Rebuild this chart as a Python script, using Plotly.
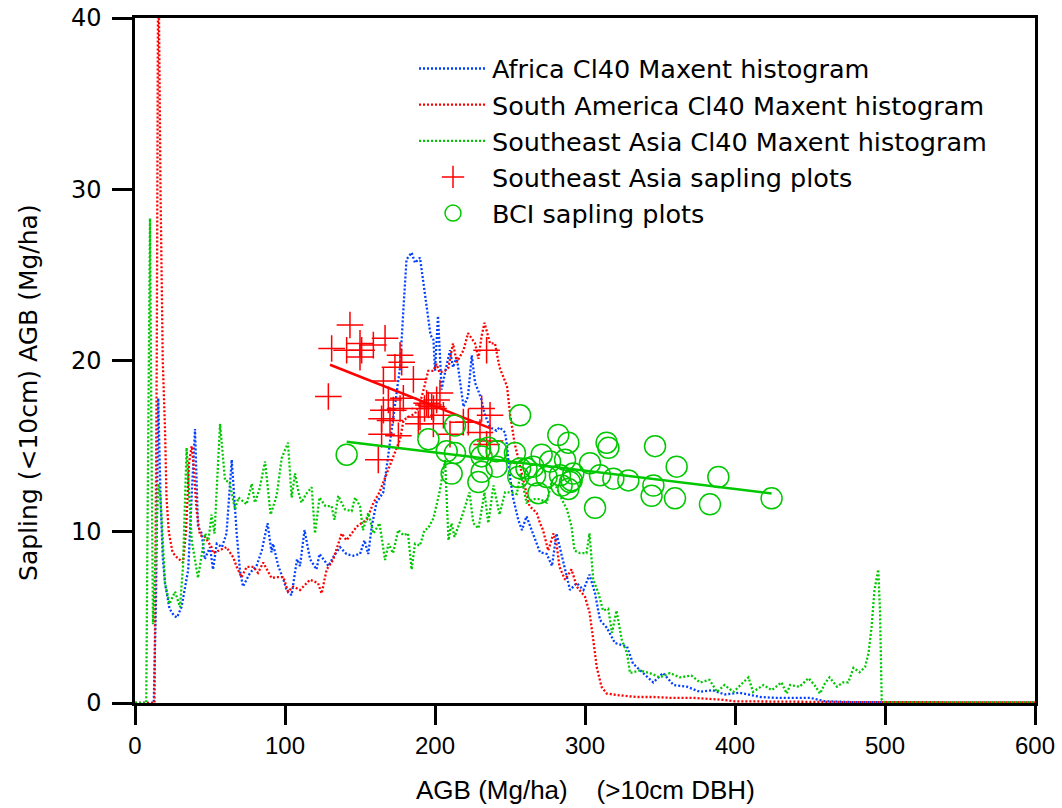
import plotly.graph_objects as go

# ---------------- data ----------------
africa_x = [0, 12.5, 14, 15.5, 17, 18.5, 20, 23, 26, 28, 31, 33, 35.5, 38, 40, 42, 44.5, 46.5, 50, 52, 54.5, 58, 61, 64.5, 67.8,
            70, 72, 76.7, 81, 84.5, 88.4, 91, 92, 95.5, 99, 101, 104.4, 108, 110, 113, 116.7, 121, 123, 129, 132, 136.7,
            141, 145.5, 150, 153, 155.5, 157.8, 161, 165.5, 167.8, 170, 173, 176.7, 179, 181, 184.4, 186.7, 190, 192,
            194.5, 197, 199, 200, 202, 204.4, 206.7, 210, 212, 214.5, 219, 222, 224.5, 226.7, 229, 231, 233, 236.7, 241,
            243, 246.7, 248, 250, 252, 255.5, 258, 261, 265.5, 270, 274.5, 278, 281, 285.5, 290, 294.5, 299, 303, 306.7,
            310, 314.5, 320, 328, 332, 339, 345.5, 352, 359, 368, 376.7, 385, 393, 403, 417, 427, 440, 450, 460, 480, 500,
            520, 540, 560, 580, 600]
africa_y = [0, 0, 6, 17.8, 12, 8.5, 7, 5.5, 5.1, 5.0, 5.6, 6.5, 7.8, 12.5, 16.0, 10.3, 9.9, 8.4, 9.1, 7.8, 9.3, 9.1, 9.9, 14.2, 9.9,
            7.7, 6.8, 7.6, 8.0, 8.9, 10.5, 8.8, 9.3, 8.0, 7.2, 6.6, 6.3, 8.4, 8.0, 10.1, 8.4, 7.8, 8.7, 8.0, 8.5, 9.1,
            8.7, 8.6, 8.7, 9.5, 8.7, 10.3, 11.7, 12.3, 13.8, 15.4, 17.3, 19.6, 23.1, 25.9, 26.3, 25.7, 26.0, 24.7,
            22.8, 21.5, 21.2, 19.4, 22.6, 18.3, 19.3, 20.6, 19.6, 20.2, 17.3, 17.9, 20.3, 18.7, 18.2, 17.7, 16.9, 16.1, 15.9,
            16.1, 15.8, 15.0, 13.2, 12.0, 10.7, 10.1, 10.9, 9.9, 8.8, 8.7, 8.0, 9.9, 8.2, 6.6, 7.0, 6.6, 7.5, 6.4,
            4.85, 4.4, 3.5, 3.3, 2.3, 1.75, 1.2, 1.75, 1.05, 0.95, 0.65, 0.75, 0.5, 0.6, 0.35, 0.3, 0.3, 0.3, 0.1, 0.05, 0.05,
            0.03, 0.03, 0.03, 0.03, 0.03]

samerica_x = [0, 13, 14.5, 15.5, 17, 18.5, 20, 21, 22.5, 25, 28, 32, 34, 36, 37.8, 39, 41, 43.3, 46.7, 51, 52, 55.5, 61, 65.5,
              67.8, 71, 74.5, 79, 82, 85.5, 89, 91, 94.5, 99, 102, 105.5, 110, 116.7, 122, 124.4, 127.8, 132, 137.8, 141,
              144.4, 147.8, 151, 154.5, 159, 163, 167.8, 172, 176.7, 179, 182, 186.7, 190, 193, 195.5, 199, 201, 203,
              206.7, 209, 212, 214.5, 219, 222, 226.7, 229, 231, 233, 236.7, 240, 243, 248, 250, 253, 256.7, 260, 263,
              267.8, 270, 272, 275.5, 279, 281, 283, 286.7, 291, 294.5, 300, 303, 305.5, 307.8, 311, 314.5, 323, 334.5,
              346, 357, 372, 390, 400, 420, 450, 480, 500, 550, 600]
samerica_y = [0, 0, 20, 45, 30, 20, 16, 12, 10, 8.8, 8.5, 8.2, 10, 14, 15.0, 14, 11.3, 9.8, 9.7, 9.1, 8.75, 8.9, 9.1, 8.5,
              7.95, 7.35, 7.95, 7.95, 7.6, 8.2, 7.6, 7.3, 7.35, 7.35, 6.5, 6.8, 6.6, 7.2, 7.0, 6.4, 7.8, 8.35, 9.9, 9.5,
              9.9, 10.3, 10.5, 10.7, 11.7, 12.3, 13.4, 14.4, 15.4, 16.5, 16.7, 16.9, 17.5, 18.5, 19.4, 19.4, 19.8, 19.3,
              19.4, 19.6, 21.0, 19.9, 20.6, 21.6, 21.0, 20.1, 21.4, 22.2, 21.0, 21.0, 19.6, 18.5, 16.9, 15.2, 13.8, 12.6, 11.5,
              11.1, 10.5, 10.1, 8.9, 9.9, 9.3, 7.95, 7.2, 7.8, 6.8, 6.2, 5.3, 3.7, 2.1, 0.95, 0.55, 0.45, 0.35,
              0.35, 0.3, 0.3, 0.2, 0.1, 0.08, 0.05, 0.05, 0.05, 0.03, 0.03]

seasia_x = [0, 7.5, 8.5, 10, 11, 12, 13.5, 15.5, 17, 18.5, 20, 23, 26.7, 30, 32, 34.4, 36, 37.8, 42, 46.7, 49, 51, 53, 56.7,
            60, 63, 66.7, 69, 74.4, 77.8, 80, 83, 86.7, 90.4, 94.4, 97.8, 102, 104.4, 106.7, 109, 111, 114, 117.8, 120,
            123, 127, 131, 133, 135.5, 140, 144.4, 146.7, 150, 152, 155.5, 159, 163, 166.7, 169, 172, 175.5, 179, 182,
            184.4, 186.7, 190, 193, 195.5, 199, 201, 203, 206.7, 209, 211, 213, 218, 223, 225.5, 229, 233, 235.5, 239,
            243, 246.7, 251, 254.5, 257, 261, 265.5, 270, 274.5, 278, 281, 284.5, 288, 291, 293, 296.7, 301, 303, 305.5,
            309, 312, 315.5, 318, 321, 324.5, 328, 330, 336.7, 343, 350, 356.7, 363, 371, 376.7, 383, 388, 393, 399,
            409, 412, 419, 424.5, 431, 434.5, 436.7, 443, 449, 453, 456.7, 460, 463, 468, 472, 475.5, 479, 483, 486.7,
            489, 491, 493, 495.5, 496.7, 497.8, 500, 550, 600]
seasia_y = [0, 0, 12, 28.3, 15, 4.6, 8, 12.8, 12.0, 9, 7, 5.8, 6.5, 5.6, 8, 14.9, 12.5, 9.5, 7.3, 9.9, 9.5, 11, 9.9, 16.3,
            13.0, 12.9, 11.3, 12.0, 11.6, 12.8, 11.7, 12.5, 14.1, 11.0, 12.1, 14.3, 15.2, 12.0, 13.4, 12.3, 11.7, 12.2, 12.6, 9.9,
            12.0, 11.5, 11.5, 10.7, 12.1, 11.3, 11.2, 12.0, 11.5, 10.1, 11.1, 9.9, 10.5, 8.35, 9.3, 8.75, 10.1, 9.8, 9.9,
            7.8, 9.3, 9.2, 10.1, 10.2, 10.8, 11.6, 12.3, 14.2, 9.5, 10.5, 9.7, 10.9, 12.3, 10.5, 10.2, 12.3, 10.5, 12.7,
            11.0, 12.3, 12.3, 12.2, 13.4, 11.7, 11.9, 11.9, 11.7, 13.0, 12.6, 11.9, 11.3, 10.3, 8.9, 8.75, 8.75, 9.9, 7.2,
            6.4, 5.4, 5.5, 4.1, 5.4, 3.7, 2.9, 1.75, 1.9, 1.75, 1.5, 1.75, 1.5, 1.6, 1.2, 1.35, 0.65, 1.05, 0.65,
            1.5, 0.65, 1.05, 0.75, 1.2, 0.55, 1.05, 0.95, 1.45, 1.05, 0.55, 1.15, 1.5, 0.95, 1.2, 1.2, 2.05, 1.8, 2.1,
            2.9, 4.4, 6.6, 7.8, 5.3, 0.2, 0.03, 0.03, 0.03]

sea_plots_x = [143.3, 131.1, 141.1, 150, 151.1, 150, 158.9, 166.7, 176.7, 177.8, 173.3, 185.6, 165.6, 128.9, 178.9,
               168.9, 195.6, 197.8, 201.1, 203.3, 165.6, 172.2, 176.7, 164.4, 170, 190, 188.9, 205.6, 198.9, 222.2,
               231.1, 236.7, 234.4, 164.4, 175.6, 210, 230, 236.7, 234.4, 218.9, 194.4, 162.2, 193, 199]
sea_plots_y = [22.07, 20.7, 20.6, 21.0, 20.6, 20.2, 20.9, 21.3, 20.3, 19.9, 19.6, 18.9, 18.8, 17.9, 17.8,
               17.7, 17.4, 17.3, 17.7, 18.1, 17.1, 17.1, 17.2, 16.6, 16.5, 16.7, 16.3, 16.8, 16.3, 16.4,
               17.2, 16.8, 20.6, 15.7, 15.6, 15.7, 15.8, 15.3, 15.1, 16.4, 17.5, 14.2, 17.2, 17.2]

bci_x = [256.7, 213.3, 282.2, 288.9, 314.4, 315.6, 346.7, 207.8, 213.3, 230, 235.6, 241.1, 231.1, 253.3, 271.1, 276.7,
         286.7, 303.3, 265.6, 256.7, 241.1, 231.1, 211.1, 266.7, 274.4, 283.3, 292.2, 291.1, 284.4, 288.9, 255.5, 310,
         318.9, 328.9, 345.6, 344.4, 361.1, 360, 388.9, 383.3, 424.4, 306.7, 268.9, 228.9, 141.1, 195.6, 261, 290]
bci_y = [16.8, 16.2, 15.65, 15.2, 15.2, 14.9, 15.0, 14.7, 14.6, 14.8, 14.9, 14.7, 14.4, 14.6, 14.5, 14.1,
         14.2, 14.0, 13.8, 13.7, 13.8, 13.5, 13.4, 13.3, 13.2, 13.3, 13.4, 13.0, 12.7, 12.5, 13.2, 13.3,
         13.1, 13.0, 12.7, 12.1, 13.8, 11.95, 13.2, 11.6, 11.95, 11.4, 12.25, 12.9, 14.5, 15.4, 13.7, 12.9]

# fitted trend lines (end points as drawn)
sea_fit_x = [130, 236.7]
sea_fit_y = [19.75, 16.05]
bci_fit_x = [141.1, 424.4]
bci_fit_y = [15.26, 12.24]

x_ticks = [0, 100, 200, 300, 400, 500, 600]
y_ticks = [0, 10, 20, 30, 40]

BLUE = "rgb(0,64,255)"
RED = "rgb(255,0,0)"
GREEN = "rgb(0,200,0)"
DOT = "2px,2px"
LW = 2.3

fig = go.Figure()
fig.add_trace(go.Scatter(x=africa_x, y=africa_y, mode="lines", name="Africa Cl40 Maxent histogram",
                         line=dict(color=BLUE, width=LW, dash=DOT), legendgroup="a"))
fig.add_trace(go.Scatter(x=samerica_x, y=samerica_y, mode="lines", name="South America Cl40 Maxent histogram",
                         line=dict(color=RED, width=LW, dash=DOT), legendgroup="b"))
fig.add_trace(go.Scatter(x=seasia_x, y=seasia_y, mode="lines", name="Southeast Asia Cl40 Maxent histogram",
                         line=dict(color=GREEN, width=LW, dash=DOT), legendgroup="c"))
fig.add_trace(go.Scatter(x=sea_plots_x, y=sea_plots_y, mode="markers", name="Southeast Asia sapling plots",
                         marker=dict(symbol="cross-thin", size=19, color=RED, line=dict(color=RED, width=1.5)),
                         legendgroup="d"))
fig.add_trace(go.Scatter(x=sea_fit_x, y=sea_fit_y, mode="lines", showlegend=False,
                         line=dict(color=RED, width=2.5)))
fig.add_trace(go.Scatter(x=bci_x, y=bci_y, mode="markers", name="BCI sapling plots",
                         marker=dict(symbol="circle-open", size=21, color=GREEN, line=dict(color=GREEN, width=1.5)),
                         legendgroup="e"))
fig.add_trace(go.Scatter(x=bci_fit_x, y=bci_fit_y, mode="lines", showlegend=False,
                         line=dict(color=GREEN, width=2.5)))

fig.update_layout(
    width=1062, height=808,
    margin=dict(l=135, r=27, t=18, b=105, autoexpand=False),
    paper_bgcolor="white", plot_bgcolor="white",
    font=dict(family="DejaVu Sans", size=22, color="black"),
    showlegend=True,
    legend=dict(x=0.31, y=0.96, xanchor="left", yanchor="top", bgcolor="rgba(0,0,0,0)",
                font=dict(family="DejaVu Sans", size=25.5, color="black"),
                tracegroupgap=0, itemwidth=68),
    xaxis=dict(range=[0, 600], tickvals=x_ticks, ticktext=[str(v) for v in x_ticks], automargin=False,
               showgrid=False, zeroline=False, showline=True, linecolor="black", linewidth=2.5,
               mirror=True, ticks="outside", ticklen=19, tickwidth=2.5, tickcolor="black",
               tickfont=dict(family="Liberation Sans", size=24)),
    yaxis=dict(range=[0, 40], tickvals=y_ticks, ticktext=[str(v) for v in y_ticks], automargin=False,
               showgrid=False, zeroline=False, showline=True, linecolor="black", linewidth=2.5,
               mirror=True, ticks="outside", ticklen=20, tickwidth=2.5, tickcolor="black",
               ticklabelstandoff=6,
               tickfont=dict(family="DejaVu Sans", size=24)),
    annotations=[
        dict(text="AGB (Mg/ha)\u00a0\u00a0\u00a0\u00a0(>10cm DBH)", xref="paper", yref="paper", x=0.5, y=-0.127,
             xanchor="center", yanchor="middle", showarrow=False,
             font=dict(family="Liberation Sans", size=26)),
        dict(text="Sapling (<10cm) AGB (Mg/ha)", xref="paper", yref="paper", x=-0.119, y=0.454,
             xanchor="center", yanchor="middle", textangle=-90, showarrow=False,
             font=dict(family="DejaVu Sans", size=25)),
    ],
)

fig.write_html("out.html")
